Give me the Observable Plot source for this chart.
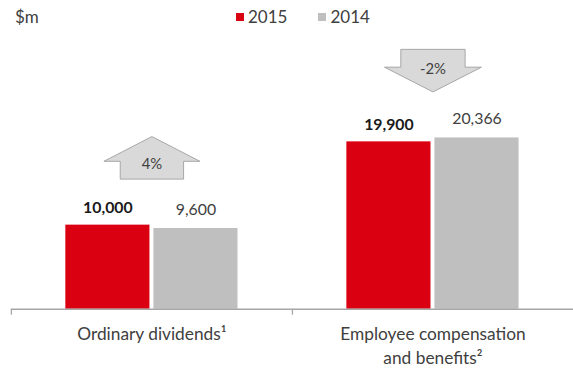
<!DOCTYPE html>
<html>
<head>
<meta charset="utf-8">
<script src="https://cdn.jsdelivr.net/npm/d3@7"></script>
<script src="https://cdn.jsdelivr.net/npm/@observablehq/plot@0.6"></script>
<style>
  html, body { margin: 0; padding: 0; background: #fff; }
  body { width: 573px; height: 368px; overflow: hidden; position: relative; font-family: Lato, "Open Sans", sans-serif; color: #404040; }
  #unit { position: absolute; left: 15px; top: 6px; font-size: 17px; }
  #legend { position: absolute; left: 236px; top: 6px; display: flex; gap: 31px; font-size: 17px; }
  #legend span.item { display: flex; align-items: center; gap: 4px; }
  #legend span.sw { width: 8px; height: 8px; display: inline-block; }
  #chart { position: absolute; left: 0; top: 0; }
</style>
</head>
<body>
<div id="chart"></div>
<div id="unit">$m</div>
<div id="legend"></div>
<script>
// ---- data ----
const categories = ["Ordinary dividends¹", "Employee compensation\nand benefits²"];
const years = ["2015", "2014"];
const values2015 = [10000, 19900];
const values2014 = [9600, 20366];
const changes = ["4%", "-2%"];
const directions = ["up", "down"];
const yearColors = ["#db0011", "#bfbfbf"];
const unitLabel = "$m";

const data = [];
categories.forEach((c, i) => {
  data.push({category: c, year: "2015", value: values2015[i]});
  data.push({category: c, year: "2014", value: values2014[i]});
});
const arrows = categories.map((c, i) => ({
  category: c,
  change: changes[i],
  dir: directions[i],
  top: Math.max(values2015[i], values2014[i])
}));

// custom arrow symbols (drawn around the anchor point)
const upArrow = {
  draw(ctx) {
    ctx.moveTo(0, -21.5);
    ctx.lineTo(48.5, 3.5);
    ctx.lineTo(32, 3.5);
    ctx.lineTo(32, 21.5);
    ctx.lineTo(-32, 21.5);
    ctx.lineTo(-32, 3.5);
    ctx.lineTo(-48.5, 3.5);
    ctx.closePath();
  }
};
const downArrow = {
  draw(ctx) {
    ctx.moveTo(-32.5, -21.5);
    ctx.lineTo(32.5, -21.5);
    ctx.lineTo(32.5, -3.5);
    ctx.lineTo(49, -3.5);
    ctx.lineTo(0, 21.5);
    ctx.lineTo(-49, -3.5);
    ctx.lineTo(-32.5, -3.5);
    ctx.closePath();
  }
};

const W = 579, marginLeft = 11;
const halfBand = (W - marginLeft) / categories.length / 2;
const fmt = d3.format(",");
const textColor = "#404040";
const axisColor = "#a6a6a6";

const plot = Plot.plot({
  width: W,
  height: 368,
  marginLeft,
  marginRight: 0,
  marginTop: 57,
  marginBottom: 56,
  style: {fontFamily: "Lato, 'Open Sans', sans-serif", color: textColor, background: "transparent", overflow: "visible"},
  fx: {domain: categories, padding: 0, axis: null},
  x: {domain: years, paddingInner: 0.045, paddingOuter: 0.618, axis: null},
  y: {domain: [0, 30000], axis: null},
  color: {domain: years, range: yearColors},
  marks: [
    Plot.barY(data, {fx: "category", x: "year", y: "value", fill: "year"}),
    Plot.ruleY([0], {stroke: axisColor, strokeWidth: 1.3}),
    Plot.axisFx({anchor: "bottom", tickSize: 6, tickFormat: () => "", label: null, dx: -halfBand, stroke: axisColor, strokeWidth: 1.3}),
    Plot.axisFx({anchor: "bottom", tickSize: 0, tickPadding: 14, fontSize: 17.5, lineHeight: 1.38, fill: textColor, label: null}),
    Plot.text(data.filter(d => d.year === "2015"), {fx: "category", x: "year", y: "value", text: d => fmt(d.value), dy: -17, fontSize: 16, fontWeight: "bold", fill: "#1a1a1a"}),
    Plot.text(data.filter(d => d.year === "2014"), {fx: "category", x: "year", y: "value", text: d => fmt(d.value), dy: -19, fontSize: 16, fill: textColor}),
    Plot.dot(arrows.filter(d => d.dir === "up"), {fx: "category", y: "top", symbol: upArrow, fill: "#d9d9d9", stroke: axisColor, strokeWidth: 1, dy: -68}),
    Plot.dot(arrows.filter(d => d.dir === "down"), {fx: "category", y: "top", symbol: downArrow, fill: "#d9d9d9", stroke: axisColor, strokeWidth: 1, dy: -68}),
    Plot.text(arrows.filter(d => d.dir === "up"), {fx: "category", y: "top", text: "change", dy: -62, fontSize: 15, fill: textColor}),
    Plot.text(arrows.filter(d => d.dir === "down"), {fx: "category", y: "top", text: "change", dy: -69, fontSize: 15, fill: textColor})
  ]
});
document.getElementById("chart").appendChild(plot);

document.getElementById("unit").textContent = unitLabel;
const legend = document.getElementById("legend");
years.forEach((y, i) => {
  const item = document.createElement("span");
  item.className = "item";
  const sw = document.createElement("span");
  sw.className = "sw";
  sw.style.background = yearColors[i];
  const t = document.createElement("span");
  t.textContent = y;
  item.appendChild(sw);
  item.appendChild(t);
  legend.appendChild(item);
});
</script>
</body>
</html>
